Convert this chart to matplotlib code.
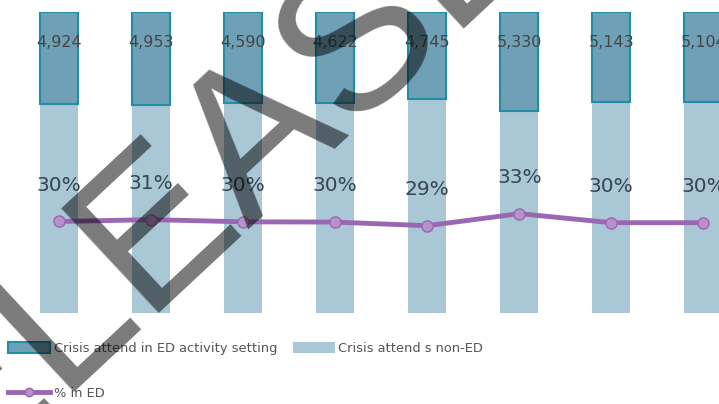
import matplotlib
matplotlib.use("Agg")
import matplotlib.pyplot as plt
from matplotlib.patches import Patch
from matplotlib.lines import Line2D
import numpy as np

# crisis attendances per period
ed_attend = [4924, 4953, 4590, 4622, 4745, 5330, 5143, 5104]
non_ed_attend = [11270, 11020, 10560, 10680, 11620, 10820, 12000, 11910]

ed_color = "#6fa0b6"
ed_edge = "#1f8ea6"
non_ed_color = "#a9c7d5"
line_color = "#9a67b3"

ed = np.array(ed_attend, dtype=float)
non_ed = np.array(non_ed_attend, dtype=float)
share = ed / (ed + non_ed) * 100
x = np.arange(len(ed))

fig = plt.figure(figsize=(7.19, 4.04), dpi=100)
ax = fig.add_axes([0, 1 - 313 / 404, 1, 301 / 404])

ax.bar(x, 100 - share, width=0.41, color=non_ed_color, linewidth=0)
ax.bar(x, share, bottom=100 - share, width=0.41, color=ed_color,
       edgecolor=ed_edge, linewidth=1.5)
ax.plot(x, share, color=line_color, lw=3.5, marker="o", markersize=8,
        markerfacecolor="#b892cb", markeredgecolor=line_color, zorder=3)

for xi, n in zip(x, ed_attend):
    ax.text(xi, 89.8, f"{n:,}", ha="center", va="center", fontsize=11.5,
            color="#454545")
for xi, s in zip(x, share):
    ax.text(xi, s + 12, f"{s:.0f}%", ha="center", va="center",
            fontsize=14.5, color="#36454f")

ax.set_xlim(-0.641, 7.17)
ax.set_ylim(0, 100)
ax.axis("off")

handles = [
    Patch(facecolor=ed_color, edgecolor=ed_edge, linewidth=1.5),
    Line2D([0], [0], color=line_color, lw=3.5, marker="o", markersize=6,
           markerfacecolor="#b892cb", markeredgecolor=line_color),
    Patch(facecolor=non_ed_color, edgecolor="none"),
]
labels = ["Crisis attend in ED activity setting", "% in ED", "Crisis attend s non-ED"]
leg = fig.legend(handles, labels, ncol=2, loc="upper left",
                 bbox_to_anchor=(8 / 719, 1 - 342 / 404), frameon=False,
                 fontsize=9.4, handlelength=3.2, handleheight=0.95,
                 handletextpad=0.3, labelspacing=2.45, columnspacing=1.2,
                 borderpad=0, borderaxespad=0)
for t in leg.get_texts():
    t.set_color("#555555")

# diagonal watermark
fig.text(216 / 719, 1 - 170 / 404, "RELEASED", fontsize=150, rotation=43,
         family="Liberation Sans", ha="center", va="center", color="black",
         alpha=0.52, rotation_mode="anchor", zorder=10)

fig.savefig("out.png", dpi=100)
